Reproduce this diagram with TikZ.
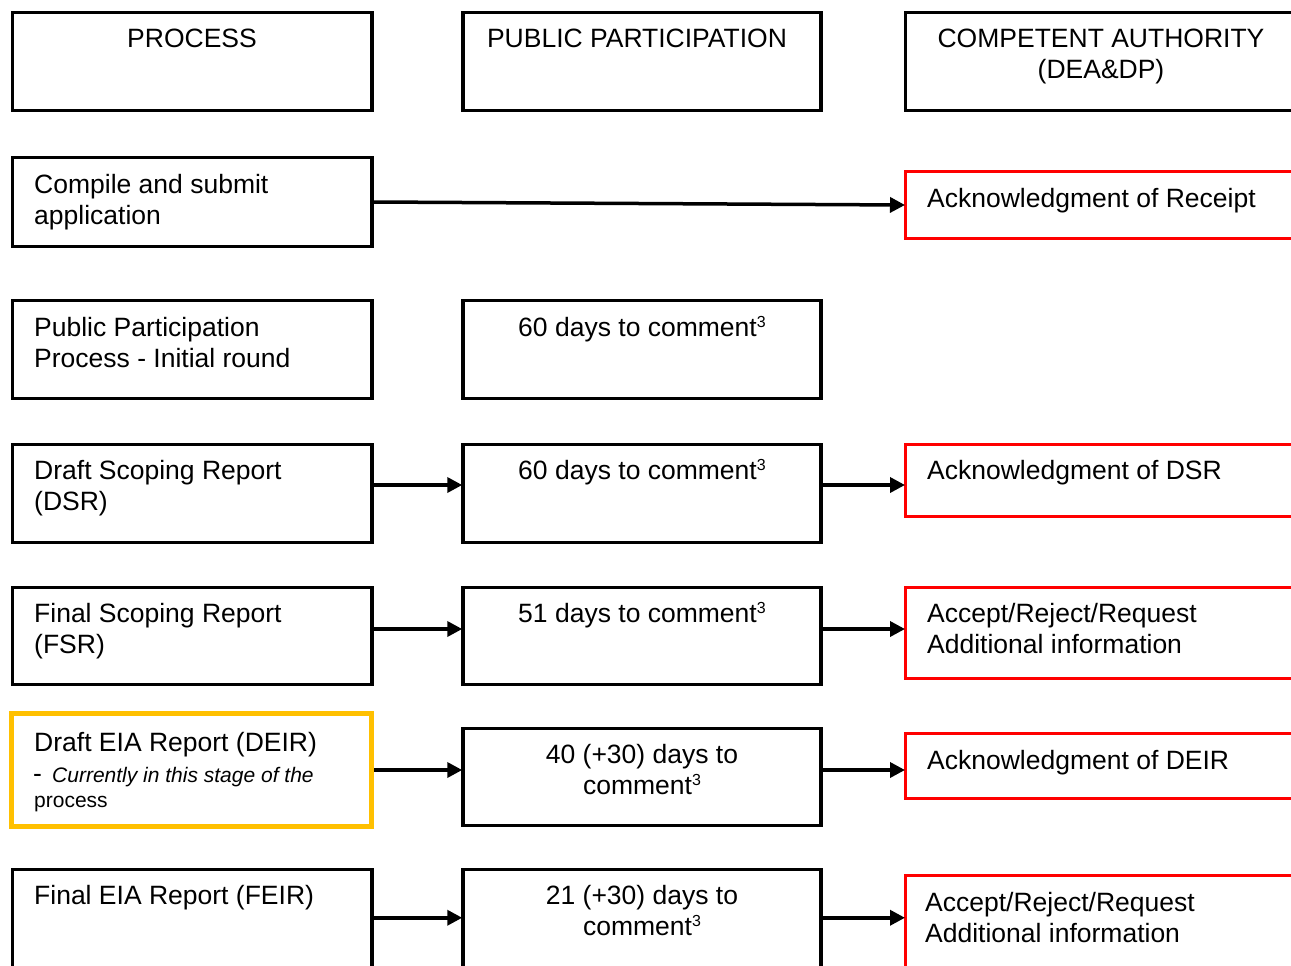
\documentclass[tikz,border=0pt]{standalone}
\usepackage{fontspec}
\setmainfont{Liberation Sans}
\usetikzlibrary{arrows.meta}
\newcommand\twoL[2]{\vtop{\hbox{#1}\hbox{#2}}}
\newcommand\twoC[2]{\vtop{\halign{\hfil##\hfil\cr#1\cr#2\cr}}}
\newcommand\supr[1]{\raisebox{9pt}{\fontsize{16}{16}\selectfont #1}}
\tikzset{
  box/.style={draw=black, line width=3.5pt, rectangle, inner sep=0pt},
  redbox/.style={draw=red, line width=3pt, rectangle, inner sep=0pt},
  orgbox/.style={draw={rgb,255:red,255;green,192;blue,0}, line width=5pt, rectangle, inner sep=0pt},
  txt/.style={font=\fontsize{26.5}{31}\selectfont, inner sep=0pt, anchor=base west},
  ctxt/.style={font=\fontsize{26.5}{31}\selectfont, inner sep=0pt, anchor=base},
  small/.style={font=\fontsize{21}{25}\selectfont, inner sep=0pt, anchor=base west},
  arr/.style={line width=3.5pt, -{Triangle[length=15pt,width=15pt]}, shorten >=-1pt}
}
\newcommand\bx[6]{%
  \pgfmathsetmacro\bw{#4-#2}\pgfmathsetmacro\bh{#5-#3}%
  \pgfmathsetmacro\cx{(#2+#4)/2}\pgfmathsetmacro\cy{(#3+#5)/2}%
  \node[#6, minimum width=\bw pt, minimum height=\bh pt] (#1) at (\cx,\cy) {};}
\begin{document}
\begin{tikzpicture}[x=1pt,y=-1pt]
\useasboundingbox (0,0) rectangle (1291,966);
\clip (0,0) rectangle (1291,966);
\fill[white] (0,0) rectangle (1291,966);
% header
\bx{h1}{12.5}{12.5}{372}{110.5}{box}
\bx{h2}{463}{12.5}{821}{110.5}{box}
\bx{h3}{905.5}{12.5}{1310}{110.5}{box}
\node[ctxt] (th1) at (192,48) {PROCESS};
\node[ctxt] (th2) at (637,48) {PUBLIC PARTICIPATION};
\node[ctxt] (th3) at (1101,48) {\twoC{COMPETENT AUTHORITY}{(DEA\&DP)}};
% row 1
\bx{a1}{12.5}{157.5}{372}{246.5}{box}
\bx{c1}{905.5}{171.5}{1310}{238.5}{redbox}
\node[txt] (ta1) at (34,193) {\twoL{Compile and submit}{application}};
\node[txt] (tc1) at (927,207) {Acknowledgment of Receipt};
\draw[arr] (a1.east) -- (c1.west);
% row 2
\bx{a2}{12.5}{300.5}{372}{398.5}{box}
\bx{b2}{463}{300.5}{821}{398.5}{box}
\node[txt] (ta2) at (34,336) {\twoL{Public Participation}{Process - Initial round}};
\node[ctxt] (tb2) at (642,336) {60 days to comment\supr{3}};
% row 3
\bx{a3}{12.5}{444.5}{372}{542.5}{box}
\bx{b3}{463}{444.5}{821}{542.5}{box}
\bx{c3}{905.5}{444.5}{1310}{516.5}{redbox}
\node[txt] (ta3) at (34,479) {\twoL{Draft Scoping Report}{(DSR)}};
\node[ctxt] (tb3) at (642,479) {60 days to comment\supr{3}};
\node[txt] (tc3) at (927,479) {Acknowledgment of DSR};
\draw[arr] ([yshift=8.5pt]a3.east) -- ([yshift=8.5pt]b3.west);
\draw[arr] ([yshift=8.5pt]b3.east) -- ([yshift=-4.5pt]c3.west);
% row 4
\bx{a4}{12.5}{587.5}{372}{684.5}{box}
\bx{b4}{463}{587.5}{821}{684.5}{box}
\bx{c4}{905.5}{587.5}{1310}{678.5}{redbox}
\node[txt] (ta4) at (34,622) {\twoL{Final Scoping Report}{(FSR)}};
\node[ctxt] (tb4) at (642,622) {51 days to comment\supr{3}};
\node[txt] (tc4) at (927,622) {\twoL{Accept/Reject/Request}{Additional information}};
\draw[arr] ([yshift=7pt]a4.east) -- ([yshift=7pt]b4.west);
\draw[arr] ([yshift=7pt]b4.east) -- ([yshift=4pt]c4.west);
% row 5
\bx{a5}{11.5}{713.5}{371.5}{826.5}{orgbox}
\bx{b5}{463}{728.5}{821}{825.5}{box}
\bx{c5}{905.5}{733.5}{1310}{798.5}{redbox}
\node[txt] (ta5) at (34,751) {Draft EIA Report (DEIR)};
\node[txt] (ta5b) at (33,782) {-};
\node[small, font=\fontsize{21}{25}\selectfont\itshape] (ta5c) at (52,782) {Currently in this stage of the};
\node[small] (ta5d) at (34,807) {process};
\node[ctxt] (tb5) at (642,763) {\twoC{40 (+30) days to}{comment\supr{3}}};
\node[txt] (tc5) at (927,769) {Acknowledgment of DEIR};
\draw[arr] (a5.east) -- ([yshift=7pt]b5.west);
\draw[arr] ([yshift=7pt]b5.east) -- ([yshift=-4pt]c5.west);
% row 6
\bx{a6}{12.5}{869.5}{372}{970}{box}
\bx{b6}{463}{869.5}{821}{970}{box}
\bx{c6}{905.5}{875.5}{1310}{970}{redbox}
\node[txt] (ta6) at (34,904) {Final EIA Report (FEIR)};
\node[ctxt] (tb6) at (642,904) {\twoC{21 (+30) days to}{comment\supr{3}}};
\node[txt] (tc6) at (925,911) {\twoL{Accept/Reject/Request}{Additional information}};
\draw[arr] ([yshift=2pt]a6.east) -- ([yshift=2pt]b6.west);
\draw[arr] ([yshift=2pt]b6.east) -- ([yshift=5pt]c6.west);
\end{tikzpicture}
\end{document}
